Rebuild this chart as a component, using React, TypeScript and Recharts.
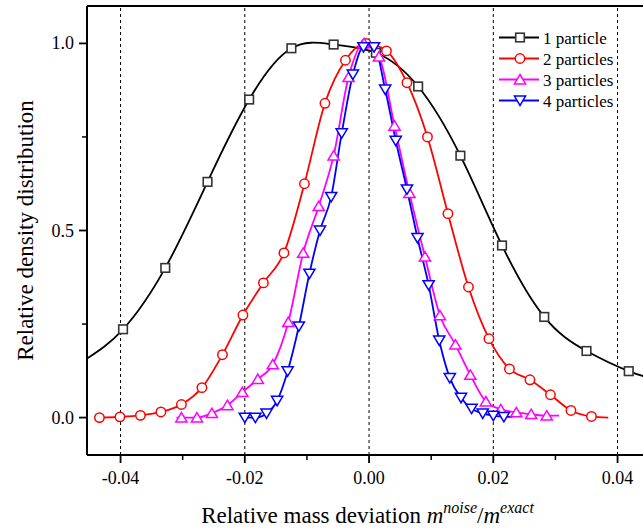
import { LineChart, Line, XAxis, YAxis, ReferenceLine, Label } from 'recharts'

const FONT = "'Liberation Serif', 'Times New Roman', serif"

// 1 particle (first and last points are curve ends, drawn without a marker)
const x1 = [-0.0454, -0.0396, -0.0328, -0.026, -0.0193, -0.0125, -0.0057, 0.0011, 0.0079, 0.0147, 0.0214, 0.0282, 0.035, 0.0418, 0.0449]
const y1 = [0.158, 0.236, 0.4, 0.63, 0.85, 0.987, 0.997, 0.975, 0.885, 0.7, 0.46, 0.269, 0.178, 0.124, 0.108]
const open1 = [0, 14]

// 2 particles
const x2 = [-0.0434, -0.0401, -0.0368, -0.0335, -0.0302, -0.0269, -0.0236, -0.0203, -0.017, -0.0137, -0.0104, -0.0071, -0.0038, -0.0005, 0.0028, 0.0061, 0.0094, 0.0127, 0.016, 0.0193, 0.0226, 0.0259, 0.0292, 0.0325, 0.0358, 0.0385]
const y2 = [0.0, 0.002, 0.006, 0.015, 0.035, 0.08, 0.168, 0.274, 0.36, 0.44, 0.625, 0.84, 0.955, 1.0, 0.98, 0.895, 0.75, 0.545, 0.349, 0.211, 0.13, 0.101, 0.061, 0.019, 0.003, 0.0]
const open2 = [25]

// 3 particles
const x3 = [-0.031, -0.0302, -0.0277, -0.0253, -0.0228, -0.0204, -0.0179, -0.0155, -0.013, -0.0106, -0.0081, -0.0057, -0.0033, -0.0008, 0.0016, 0.0041, 0.0065, 0.009, 0.0114, 0.0139, 0.0163, 0.0188, 0.0212, 0.0237, 0.0261, 0.0286, 0.0306]
const y3 = [0.0, 0.0, 0.0, 0.012, 0.033, 0.068, 0.103, 0.142, 0.255, 0.44, 0.565, 0.7, 0.91, 1.0, 0.965, 0.78, 0.6, 0.43, 0.273, 0.195, 0.114, 0.043, 0.022, 0.014, 0.009, 0.005, 0.005]
const open3 = [0, 26]

// 4 particles
const x4 = [-0.02, -0.0183, -0.0165, -0.0148, -0.0131, -0.0113, -0.0096, -0.0079, -0.0061, -0.0044, -0.0026, -0.0009, 0.0008, 0.0026, 0.0043, 0.0061, 0.0078, 0.0096, 0.0113, 0.013, 0.0148, 0.0165, 0.0183, 0.02, 0.0217, 0.0231]
const y4 = [0.0, 0.0, 0.011, 0.045, 0.124, 0.244, 0.385, 0.5, 0.59, 0.76, 0.917, 0.99, 0.99, 0.877, 0.74, 0.61, 0.48, 0.354, 0.206, 0.106, 0.053, 0.024, 0.011, 0.005, 0.002, 0.002]
const open4 = [25]

const legendNames = ['1 particle', '2 particles', '3 particles', '4 particles']

const xMajor = [-0.04, -0.02, 0, 0.02, 0.04]
const xLabels = ['-0.04', '-0.02', '0.00', '0.02', '0.04']
const xMinor = [-0.03, -0.01, 0.01, 0.03]
const yMajor = [0, 0.5, 1]
const yLabels = ['0.0', '0.5', '1.0']
const yMinor = [0.25, 0.75]

const build = (xs: number[], ys: number[], open: number[]) =>
  xs.map((x, i) => ({ x, y: ys[i], m: !open.includes(i) }))

const d1 = build(x1, y1, open1)
const d2 = build(x2, y2, open2)
const d3 = build(x3, y3, open3)
const d4 = build(x4, y4, open4)

const Square = ({ cx, cy, c }: any) => (
  <rect x={cx - 4.3} y={cy - 4.3} width={8.6} height={8.6} fill="#fff" stroke={c} strokeWidth={1.6} />
)
const Circle = ({ cx, cy, c }: any) => (
  <circle cx={cx} cy={cy} r={4.7} fill="#fff" stroke={c} strokeWidth={1.5} />
)
const TriUp = ({ cx, cy, c }: any) => (
  <polygon points={`${cx},${cy - 5} ${cx + 5.6},${cy + 4.4} ${cx - 5.6},${cy + 4.4}`} fill="#fff" stroke={c} strokeWidth={1.5} />
)
const TriDown = ({ cx, cy, c }: any) => (
  <polygon points={`${cx},${cy + 5} ${cx + 5.6},${cy - 4.4} ${cx - 5.6},${cy - 4.4}`} fill="#fff" stroke={c} strokeWidth={1.5} />
)

const dotOf = (Shape: any, c: string) => (p: any) => {
  if (!p.payload || !p.payload.m) return <g key={`e${p.index}`} />
  return <Shape key={`d${p.index}`} cx={p.cx} cy={p.cy} c={c} />
}

const XTick = ({ x, y, payload }: any) => {
  const v = payload.value
  const i = xMajor.findIndex(t => Math.abs(t - v) < 1e-9)
  if (i < 0) return <line x1={x} x2={x} y1={y} y2={y + 5} stroke="#000" strokeWidth={1.5} />
  return (
    <g>
      <line x1={x} x2={x} y1={y} y2={y + 8} stroke="#000" strokeWidth={1.8} />
      <text x={x} y={y + 29} textAnchor="middle" fontFamily={FONT} fontSize={18} fill="#000">
        {xLabels[i]}
      </text>
    </g>
  )
}

const YTick = ({ x, y, payload }: any) => {
  const v = payload.value
  const i = yMajor.findIndex(t => Math.abs(t - v) < 1e-9)
  if (i < 0) return <line x1={x - 5} x2={x} y1={y} y2={y} stroke="#000" strokeWidth={1.5} />
  return (
    <g>
      <line x1={x - 8} x2={x} y1={y} y2={y} stroke="#000" strokeWidth={1.8} />
      <text x={x - 13} y={y + 6} textAnchor="end" fontFamily={FONT} fontSize={18} fill="#000">
        {yLabels[i]}
      </text>
    </g>
  )
}

const XTitle = ({ viewBox }: any) => {
  const cx = viewBox.x + viewBox.width / 2
  const y = viewBox.y + 68
  return (
    <text x={cx} y={y} textAnchor="middle" fontFamily={FONT} fontSize={23} fill="#000">
      Relative mass deviation{' '}
      <tspan fontStyle="italic">m</tspan>
      <tspan fontStyle="italic" fontSize={16} dy={-10}>noise</tspan>
      <tspan dy={10}>/</tspan>
      <tspan fontStyle="italic">m</tspan>
      <tspan fontStyle="italic" fontSize={16} dy={-10}>exact</tspan>
    </text>
  )
}

const YTitle = ({ viewBox }: any) => {
  const cy = viewBox.y + viewBox.height / 2
  const x = 33
  return (
    <text x={x} y={cy} transform={`rotate(-90, ${x}, ${cy})`} textAnchor="middle" fontFamily={FONT} fontSize={23} fill="#000">
      Relative density distribution
    </text>
  )
}

const legendItems = [
  { name: legendNames[0], color: '#000', mark: '#333', Shape: Square },
  { name: legendNames[1], color: '#ff0000', mark: '#ff0000', Shape: Circle },
  { name: legendNames[2], color: '#ff00ff', mark: '#ff00ff', Shape: TriUp },
  { name: legendNames[3], color: '#0000ff', mark: '#0000ff', Shape: TriDown },
]

const LegendBox = () => (
  <svg width={150} height={100} style={{ position: 'absolute', left: 495, top: 25 }}>
    {legendItems.map((it, i) => {
      const cy = 12.5 + i * 21
      return (
        <g key={it.name}>
          <line x1={4} x2={44} y1={cy} y2={cy} stroke={it.color} strokeWidth={1.8} />
          <it.Shape cx={25} cy={cy} c={it.mark} />
          <text x={48} y={cy + 6} fontFamily={FONT} fontSize={17} fill="#000">{it.name}</text>
        </g>
      )
    })}
  </svg>
)

export default function App() {
  return (
    <div style={{ position: 'absolute', left: 0, top: 0, width: 643, height: 532, overflow: 'hidden', background: '#fff' }}>
      <LineChart width={660} height={532} margin={{ top: 6, right: 12, bottom: 47, left: 27 }}>
        <XAxis
          type="number"
          dataKey="x"
          domain={[-0.0454, 0.0449]}
          allowDataOverflow
          ticks={[...xMajor, ...xMinor].sort((a, b) => a - b)}
          tick={<XTick />}
          tickLine={false}
          tickSize={0}
          tickMargin={0}
          axisLine={{ stroke: '#000', strokeWidth: 2 }}
          height={30}
          interval={0}
        >
          <Label content={<XTitle />} />
        </XAxis>
        <YAxis
          type="number"
          dataKey="y"
          domain={[-0.1, 1.1]}
          allowDataOverflow
          ticks={[...yMajor, ...yMinor].sort((a, b) => a - b)}
          tick={<YTick />}
          tickLine={false}
          tickSize={0}
          tickMargin={0}
          axisLine={{ stroke: '#000', strokeWidth: 2 }}
          width={60}
          interval={0}
        >
          <Label content={<YTitle />} />
        </YAxis>
        {xMajor.map(v => (
          <ReferenceLine key={`g${v}`} x={v} stroke="#000" strokeWidth={1} strokeDasharray="3 3" />
        ))}
        <ReferenceLine y={1.1} stroke="#000" strokeWidth={2} />
        <Line data={d1} dataKey="y" type="natural" stroke="#000" strokeWidth={1.8} dot={dotOf(Square, '#333')} activeDot={false} isAnimationActive={false} />
        <Line data={d2} dataKey="y" type="monotone" stroke="#ff0000" strokeWidth={1.8} dot={dotOf(Circle, '#ff0000')} activeDot={false} isAnimationActive={false} />
        <Line data={d3} dataKey="y" type="monotone" stroke="#ff00ff" strokeWidth={1.8} dot={dotOf(TriUp, '#ff00ff')} activeDot={false} isAnimationActive={false} />
        <Line data={d4} dataKey="y" type="monotone" stroke="#0000ff" strokeWidth={1.8} dot={dotOf(TriDown, '#0000ff')} activeDot={false} isAnimationActive={false} />
      </LineChart>
      <LegendBox />
    </div>
  )
}
